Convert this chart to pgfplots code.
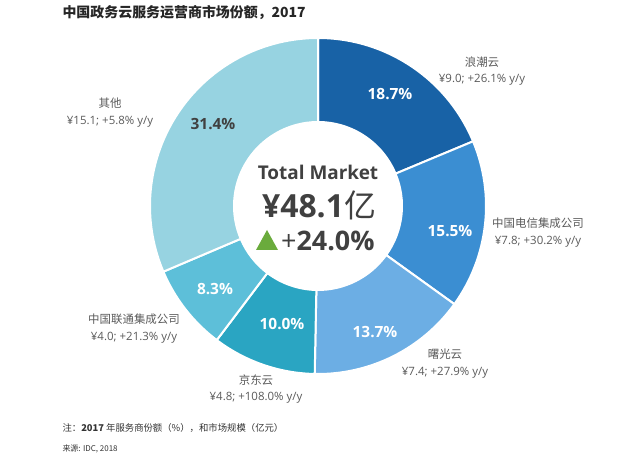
\documentclass[border=0pt]{standalone}
\usepackage{pgfplots}
\pgfplotsset{compat=1.18}
\usepackage{pgfplotstable}
\usepackage{fontspec}
\setmainfont{Open Sans}
\newfontfamily\cjk{Noto Sans CJK SC}
\usetikzlibrary{shadows}

\definecolor{c1}{HTML}{1862A6}
\definecolor{c2}{HTML}{3B8ED2}
\definecolor{c3}{HTML}{6CAEE4}
\definecolor{c4}{HTML}{2AA5C2}
\definecolor{c5}{HTML}{5DBFD9}
\definecolor{c6}{HTML}{97D3E1}
\definecolor{lbl}{HTML}{5A5A5A}
\definecolor{dark}{HTML}{404040}
\definecolor{up}{HTML}{6AAB3C}

% market size in 100m CNY, 2017 (slices are drawn from these)
\pgfplotstableread{
amount color
9.0  c1
7.8  c2
7.4  c3
4.8  c4
4.0  c5
15.1 c6
}\shares

\begin{document}
\begin{tikzpicture}
\begin{axis}[
    x=1bp, y=1bp, y dir=reverse,
    xmin=0, xmax=640, ymin=0, ymax=457,
    hide axis, clip=false,
    ]
\addplot[draw=none] coordinates {(0,0) (640,457)};

\fill[white, drop shadow={opacity=0.3, shadow xshift=0bp, shadow yshift=-1bp}]
    (axis cs:318,206) circle[radius=86bp];

\xdef\start{90}
\pgfplotsinvokeforeach{0,...,5}{
  \pgfplotstablegetelem{#1}{amount}\of{\shares}
  \pgfmathsetmacro{\sweep}{360*\pgfplotsretval/48.1}
  \pgfmathsetmacro{\stop}{\start-\sweep}
  \pgfplotstablegetelem{#1}{color}\of{\shares}
  \edef\next{\noexpand\fill[\pgfplotsretval, draw=white, line width=2bp, line join=round]
    ([shift={(\start:168bp)}]axis cs:318,206) arc[start angle=\start, end angle=\stop, radius=168bp]
    -- ([shift={(\stop:84bp)}]axis cs:318,206) arc[start angle=\stop, end angle=\start, radius=84bp] -- cycle;}
  \next
  \xdef\start{\stop}
}

% share labels
\begin{scope}[font=\fontsize{15.5}{15.5}\selectfont\bfseries, text=white]
\node at (axis cs:390,94) {18.7\%};
\node at (axis cs:450,231) {15.5\%};
\node at (axis cs:375,332) {13.7\%};
\node at (axis cs:282,324) {10.0\%};
\node at (axis cs:215,289) {8.3\%};
\node[text=dark] at (axis cs:213,124) {31.4\%};
\end{scope}

% centre
\node[text=dark, font=\fontsize{19}{19}\selectfont\bfseries] at (axis cs:318,172) {Total Market};
\node[text=dark, font=\fontsize{32}{32}\selectfont\bfseries] at (axis cs:319,205) {¥48.1{\cjk\mdseries 亿}};
\node[text=dark, font=\fontsize{27}{27}\selectfont\bfseries, anchor=west, inner sep=0pt] at (axis cs:281,241) {{\mdseries +}24.0\%};
\fill[up] ([shift={(-11bp,-10bp)}]axis cs:267,240) -- ++(22bp,0) -- ++(-11bp,20bp) -- cycle;

% company labels
\begin{scope}[font=\fontsize{11.5}{17}\selectfont, text=lbl, align=center]
\node at (axis cs:482,71) {{\cjk 浪潮云}\\¥9.0; +26.1\% y/y};
\node at (axis cs:538,233) {{\cjk 中国电信集成公司}\\¥7.8; +30.2\% y/y};
\node at (axis cs:445,364) {{\cjk 曙光云}\\¥7.4; +27.9\% y/y};
\node at (axis cs:256,389) {{\cjk 京东云}\\¥4.8; +108.0\% y/y};
\node at (axis cs:134,329) {{\cjk 中国联通集成公司}\\¥4.0; +21.3\% y/y};
\node at (axis cs:110,113) {{\cjk 其他}\\¥15.1; +5.8\% y/y};
\end{scope}

% title and notes
\node[anchor=west, text=black!85, font=\cjk\fontsize{14}{14}\selectfont\bfseries] at (axis cs:59,13) {中国政务云服务运营商市场份额，2017};
\node[anchor=west, text=black!80, font=\cjk\fontsize{9.4}{9.4}\selectfont] at (axis cs:59,428) {注：{\bfseries 2017} 年服务商份额（\%），和市场规模（亿元）};
\node[anchor=west, text=black!80, font=\cjk\fontsize{8}{8}\selectfont] at (axis cs:59,449) {来源: IDC, 2018};
\end{axis}
\pgfresetboundingbox
\path (current axis.south west) rectangle (current axis.north east);
\end{tikzpicture}
\end{document}
